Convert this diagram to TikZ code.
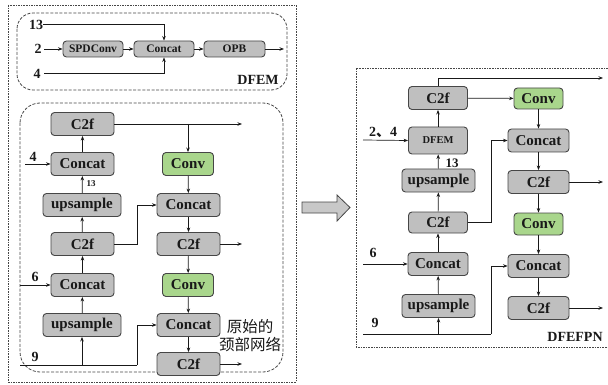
\documentclass[tikz,border=0pt]{standalone}
\usepackage{fontspec}
\setmainfont{Liberation Serif}
\newfontfamily\cjk{Noto Sans CJK SC}
\usetikzlibrary{arrows.meta}

\definecolor{boxgray}{RGB}{191,191,191}
\definecolor{boxgreen}{RGB}{169,214,140}
\definecolor{edge}{RGB}{70,70,70}
\definecolor{ink}{RGB}{25,25,25}
\definecolor{bigarrow}{RGB}{200,200,200}

\tikzset{
  blk/.style={draw=edge, fill=boxgray, rounded corners=3.5pt, line width=0.9pt,
    inner sep=0pt, minimum height=23pt, text=ink,
    font=\bfseries\fontsize{15}{15}\selectfont},
  smallblk/.style={blk, minimum height=16pt, font=\bfseries\fontsize{11.5}{11.5}\selectfont},
  grn/.style={blk, fill=boxgreen},
  conn/.style={draw=ink, line width=0.7pt, -{Stealth[length=4.5pt,width=3.5pt]}},
  wire/.style={draw=ink, line width=0.7pt},
  num/.style={text=ink, inner sep=0pt, font=\bfseries\fontsize{14}{14}\selectfont},
  tag/.style={text=ink, inner sep=0pt, font=\bfseries\fontsize{14}{14}\selectfont},
  outerbox/.style={draw=edge, line width=0.8pt, dash pattern=on 1.6pt off 1pt},
  panelbox/.style={draw=edge, line width=0.8pt, dash pattern=on 3pt off 1.6pt, rounded corners=16pt},
}

\begin{document}
\begin{tikzpicture}[x=1pt, y=-1pt]
\useasboundingbox (0,0) rectangle (608,385);

% ---------------- left side: frames ----------------
\draw[outerbox] (8,5) rectangle (296,382);
\draw[panelbox] (17,13) rectangle (287,90);
\draw[panelbox, rounded corners=20pt] (20,103) rectangle (283,372);

% ---------------- DFEM block ----------------
\node[smallblk, minimum width=60pt] (spd)  at (93,49)    {SPDConv};
\node[smallblk, minimum width=60pt] (cat0) at (164,49)   {Concat};
\node[smallblk, minimum width=61pt] (opb)  at (234.5,49) {OPB};

\coordinate (d13) at (43,24);
\coordinate (d2)  at (44,49);
\coordinate (d4)  at (44,73);
\coordinate (dout) at (284,49);

\node[num] (l13) at (36,25) {13};
\node[num] (l2)  at (38,49) {2};
\node[num] (l4)  at (37,74) {4};
\node[tag] (ldfem) at (258,80) {DFEM};

\draw[conn] (d13) -| (cat0.north);
\draw[conn] (d2) -- (spd.west);
\draw[conn] (spd) -- (cat0);
\draw[conn] (d4) -| (cat0.south);
\draw[conn] (cat0) -- (opb);
\draw[conn] (opb) -- (dout);

% ---------------- original neck ----------------
\node[blk, minimum width=63pt] (c2fA) at (82.5,124) {C2f};
\node[blk, minimum width=63pt] (catA) at (82.5,164) {Concat};
\node[blk, minimum width=78pt] (upA)  at (82,205)   {upsample};
\node[blk, minimum width=63pt] (c2fB) at (82.5,244) {C2f};
\node[blk, minimum width=63pt] (catB) at (82.5,285) {Concat};
\node[blk, minimum width=78pt] (upB)  at (82,325)   {upsample};

\node[grn, minimum width=51pt] (convA) at (188,164)   {Conv};
\node[blk, minimum width=63pt] (catC)  at (188.5,205) {Concat};
\node[blk, minimum width=63pt] (c2fC)  at (188.5,244) {C2f};
\node[grn, minimum width=51pt] (convB) at (188,285)   {Conv};
\node[blk, minimum width=63pt] (catD)  at (188.5,325) {Concat};
\node[blk, minimum width=63pt] (c2fD)  at (188.5,364) {C2f};

\coordinate (nOutA) at (242,124);
\coordinate (nOutC) at (242,244);
\coordinate (nOutD) at (242,364);
\coordinate (nIn4) at (25,164);
\coordinate (nIn6) at (20,285);
\coordinate (nIn9) at (20,365);
\coordinate (nK9)  at (137,365);
\coordinate (nKB)  at (137,244);

\node[num] (n4) at (33,157) {4};
\node[num] (n6) at (35,277) {6};
\node[num] (n9) at (35,357) {9};
\node[text=ink, inner sep=0pt, font=\bfseries\fontsize{9}{9}\selectfont] (n13) at (91,184) {13};

\draw[conn] (c2fA.east) -- (nOutA);
\draw[conn] (convA.north |- c2fA.east) -- (convA.north);
\draw[conn] (catA) -- (c2fA);
\draw[conn] (upA) -- (catA);
\draw[conn] (c2fB) -- (upA);
\draw[conn] (catB) -- (c2fB);
\draw[conn] (upB) -- (catB);
\draw[conn] (nIn4) -- (catA.west);
\draw[conn] (nIn6) -- (catB.west);
\draw[conn] (c2fB.east) -- (nKB) |- (catC.west);
\draw[wire] (nIn9) -- (nK9);
\draw[conn] (nK9) |- (catD.west);
\draw[conn] (upB.south |- nIn9) -- (upB.south);

\draw[conn] (convA) -- (catC);
\draw[conn] (catC) -- (c2fC);
\draw[conn] (c2fC) -- (convB);
\draw[conn] (convB) -- (catD);
\draw[conn] (catD) -- (c2fD);
\draw[conn] (c2fC.east) -- (nOutC);
\draw[conn] (c2fD.east) -- (nOutD);

\node[text=ink, inner sep=0pt, align=center, font=\cjk\fontsize{15.5}{18}\selectfont] (neckname) at (250,336) {原始的\\颈部网络};

% ---------------- transition arrow ----------------
\draw[draw=edge, fill=bigarrow, line width=0.8pt, line join=miter]
  (302,202) -- (337,202) -- (337,195) -- (350,207.5) -- (337,221) -- (337,213) -- (302,213) -- cycle;

% ---------------- DFEFPN ----------------
\draw[outerbox] (608,68) -- (356,68) -- (356,347) -- (608,347);

\node[blk, minimum width=59pt] (rc2fA) at (438,98) {C2f};
\node[blk, minimum width=59pt, minimum height=27pt, font=\bfseries\fontsize{10.5}{10.5}\selectfont] (dfem) at (438,140.5) {DFEM};
\node[blk, minimum width=73pt] (rupA)  at (438.5,180.5) {upsample};
\node[blk, minimum width=59pt, minimum height=21pt] (rc2fB) at (438,222.5) {C2f};
\node[blk, minimum width=60pt] (rcatA) at (438,264) {Concat};
\node[blk, minimum width=73pt] (rupB)  at (438.5,306) {upsample};

\node[grn, minimum width=49pt, minimum height=21pt] (rconvA) at (538.5,98.5) {Conv};
\node[blk, minimum width=61pt] (rcatB)  at (538.5,140.5) {Concat};
\node[blk, minimum width=61pt] (rc2fC)  at (538.5,182)   {C2f};
\node[grn, minimum width=49pt, minimum height=22pt] (rconvB) at (538.5,224) {Conv};
\node[blk, minimum width=61pt] (rcatC)  at (538.5,266)   {Concat};
\node[blk, minimum width=61pt] (rc2fD)  at (538.5,308)   {C2f};

\coordinate (rTop)  at (438,78);
\coordinate (rOutA) at (603,78);
\coordinate (rOutC) at (603,182);
\coordinate (rOutD) at (603,308);
\coordinate (rIn24) at (363,140);
\coordinate (rIn6)  at (363,264);
\coordinate (rIn9)  at (363,334);
\coordinate (rK9)   at (491,334);
\coordinate (rKB)   at (491,222.5);

\node[num] (r24) at (383,132) {2{\cjk 、}4};
\node[num, font=\bfseries\fontsize{13}{13}\selectfont] (r13) at (452,163) {13};
\node[num] (r6) at (373,253) {6};
\node[num] (r9) at (375,323) {9};
\node[tag] (lfpn) at (575,337) {DFEFPN};

\draw[wire] (rc2fA.north) -- (rTop);
\draw[conn] (rTop) -- (rOutA);
\draw[conn] (rc2fA) -- (rconvA);
\draw[conn] (dfem) -- (rc2fA);
\draw[conn] (rupA) -- (dfem);
\draw[conn] (rc2fB) -- (rupA);
\draw[conn] (rcatA) -- (rc2fB);
\draw[conn] (rupB) -- (rcatA);
\draw[conn] (rIn24) -- (dfem.west);
\draw[conn] (rIn6) -- (rcatA.west);
\draw[conn] (rc2fB.east) -- (rKB) |- (rcatB.west);
\draw[wire] (rIn9) -- (rK9);
\draw[conn] (rK9) |- (rcatC.west);
\draw[conn] (rupB.south |- rIn9) -- (rupB.south);

\draw[conn] (rconvA) -- (rcatB);
\draw[conn] (rcatB) -- (rc2fC);
\draw[conn] (rc2fC) -- (rconvB);
\draw[conn] (rconvB) -- (rcatC);
\draw[conn] (rcatC) -- (rc2fD);
\draw[conn] (rc2fC.east) -- (rOutC);
\draw[conn] (rc2fD.east) -- (rOutD);
\end{tikzpicture}
\end{document}
